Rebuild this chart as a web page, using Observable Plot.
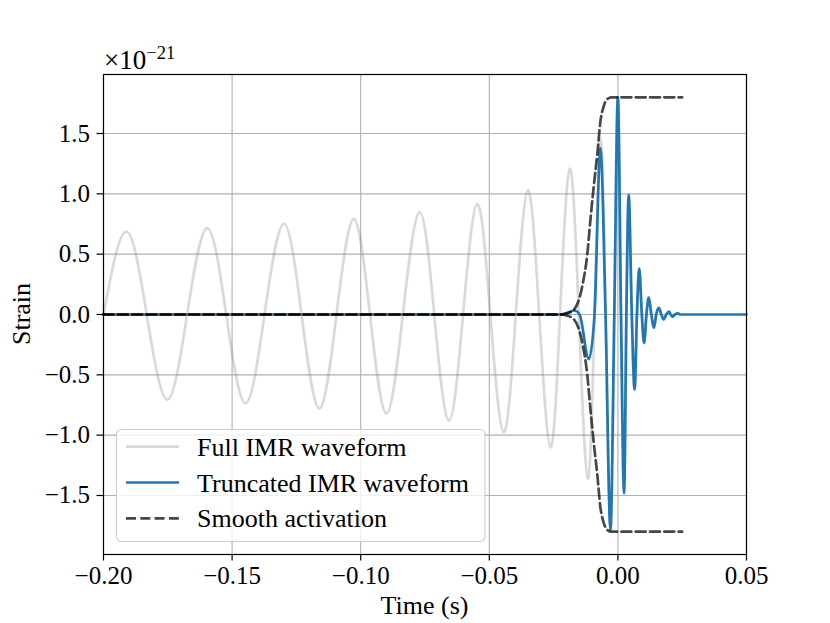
<!DOCTYPE html>
<html>
<head>
<meta charset="utf-8">
<script src="https://cdn.jsdelivr.net/npm/d3@7"></script>
<script src="https://cdn.jsdelivr.net/npm/@observablehq/plot@0.6"></script>
<style>
  html, body { margin: 0; padding: 0; background: white; }
  svg { display: block; }
</style>
</head>
<body>
<div id="chart"></div>
<script>
// Full IMR waveform (strain ×1e-21): extrema and zero crossings
const fullT = [-0.2000, -0.1912, -0.1832, -0.1752, -0.1675, -0.1597, -0.1523, -0.1448, -0.1374, -0.1299,
  -0.1230, -0.1161, -0.1094, -0.1027, -0.0964, -0.0900, -0.0836, -0.0771, -0.0714, -0.0657,
  -0.0602, -0.0547, -0.0496, -0.0444, -0.0397, -0.0350, -0.0306, -0.0262, -0.0225, -0.0187,
  -0.0152, -0.0117, -0.0091, -0.0068, -0.0048, -0.0029, -0.0014, 0.0000, 0.0012, 0.0024,
  0.0033, 0.0042, 0.0054, 0.0065, 0.0074, 0.0083, 0.0093, 0.0102, 0.0111, 0.0120,
  0.0130, 0.0140, 0.0149, 0.0159, 0.0169, 0.0178, 0.0188, 0.0198];
const fullV = [0, 0.688, 0, -0.705, 0, 0.716, 0, -0.735, 0, 0.752,
  0, -0.779, 0, 0.793, 0, -0.821, 0, 0.848, 0, -0.879,
  0, 0.918, 0, -0.976, 0, 1.028, 0, -1.100, 0, 1.208,
  0, -1.36, 0, 1.45, 0, -1.79, 0, 1.80, 0, -1.48,
  0, 0.99, 0, -0.62, 0, 0.38, 0, -0.235, 0, 0.14,
  0, -0.11, 0, 0.055, 0, -0.04, 0, 0.025];

// Truncated IMR waveform
const truncT = [-0.2000, -0.0223, -0.0200, -0.0169, -0.0149, -0.0113, -0.0091, -0.0068, -0.0048, -0.0029,
  -0.0014, 0.0000, 0.0012, 0.0024, 0.0033, 0.0042, 0.0054, 0.0065, 0.0074, 0.0083,
  0.0093, 0.0102, 0.0111, 0.0120, 0.0130, 0.0140, 0.0149, 0.0159, 0.0169, 0.0178,
  0.0188, 0.0198, 0.0205, 0.0212, 0.0222, 0.0233, 0.0243, 0.0500];
const truncV = [0, 0, 0.012, 0.033, 0, -0.37, 0, 1.38, 0, -1.78,
  0, 1.80, 0, -1.48, 0, 0.99, 0, -0.62, 0, 0.38,
  0, -0.235, 0, 0.14, 0, -0.11, 0, 0.055, 0, -0.04,
  0, 0.025, 0, -0.018, 0, 0.01, 0, 0];

// Smooth activation envelope (upper branch; lower branch is its mirror)
const actT = [-0.2000, -0.0223, -0.0200, -0.0171, -0.0139, -0.0119, -0.0107, -0.0094, -0.0080, -0.0068, -0.0056, -0.0044, -0.0025, 0.0250];
const actV = [0, 0, 0.008, 0.04, 0.23, 0.50, 0.78, 1.06, 1.33, 1.60, 1.72, 1.78, 1.80, 1.80];

const xTicks = [-0.20, -0.15, -0.10, -0.05, 0.00, 0.05];
const yTicks = [-1.5, -1.0, -0.5, 0.0, 0.5, 1.0, 1.5];
const legendLabels = ["Full IMR waveform", "Truncated IMR waveform", "Smooth activation"];

const full = fullT.map((t, i) => ({t, v: fullV[i]}));
const trunc = truncT.map((t, i) => ({t, v: truncV[i]}));
const actUp = actT.map((t, i) => ({t, v: actV[i]}));
const actDown = actT.map((t, i) => ({t, v: -actV[i]}));

const FONT = "'Liberation Serif', 'DejaVu Serif', serif";
const FS = 25;
const LW = 2.7;
const blue = "#1f77b4";
const dash = "10,4.3";

const svg = Plot.plot({
  width: 830,
  height: 623,
  marginLeft: 103,
  marginRight: 84,
  marginTop: 74,
  marginBottom: 69,
  style: {fontFamily: FONT, fontSize: FS + "px", background: "white", color: "black", overflow: "visible"},
  x: {domain: [-0.2, 0.05], ticks: xTicks, tickFormat: d3.format(".2f"), label: null},
  y: {domain: [-1.989, 1.989], ticks: yTicks, tickFormat: d3.format(".1f"), label: null},
  marks: [
    Plot.gridX(xTicks, {stroke: "#b0b0b0", strokeOpacity: 1, strokeWidth: 1.1}),
    Plot.gridY(yTicks, {stroke: "#b0b0b0", strokeOpacity: 1, strokeWidth: 1.1}),
    Plot.line(full, {x: "t", y: "v", stroke: "gray", strokeOpacity: 0.3, strokeWidth: LW, curve: "natural"}),
    Plot.line(trunc, {x: "t", y: "v", stroke: blue, strokeWidth: LW, curve: "monotone-x"}),
    Plot.line(actUp, {x: "t", y: "v", stroke: "black", strokeOpacity: 0.72, strokeWidth: LW, strokeDasharray: dash, curve: "monotone-x"}),
    Plot.line(actDown, {x: "t", y: "v", stroke: "black", strokeOpacity: 0.72, strokeWidth: LW, strokeDasharray: dash, curve: "monotone-x"}),
    Plot.frame({stroke: "black", strokeWidth: 1.2}),
    Plot.axisX({ticks: xTicks, tickSize: 6.5, tickPadding: 5, strokeWidth: 1.2, tickFormat: d3.format(".2f"), label: null}),
    Plot.axisY({ticks: yTicks, tickSize: 6.5, tickPadding: 7, strokeWidth: 1.2, tickFormat: d3.format(".1f"), label: null})
  ]
});

const s = d3.select(svg);
const g = s.append("g").attr("font-family", FONT).attr("font-size", FS).attr("fill", "black").attr("text-anchor", "start");

// axis labels
g.append("text").attr("x", 424.5).attr("y", 614).attr("text-anchor", "middle").attr("font-size", 26).text("Time (s)");
g.append("text").attr("transform", "translate(30,314) rotate(-90)").attr("text-anchor", "middle").attr("font-size", 26).text("Strain");

// offset multiplier
const mult = g.append("text").attr("x", 104).attr("y", 69).attr("text-anchor", "start").attr("font-size", 27);
mult.append("tspan").text("×10");
mult.append("tspan").attr("dy", -10).attr("font-size", 18.5).text("−21");

// legend
const lg = g.append("g").attr("text-anchor", "start");
lg.append("rect").attr("x", 116.5).attr("y", 429.5).attr("width", 368.5).attr("height", 112)
  .attr("rx", 5).attr("fill", "white").attr("fill-opacity", 0.8)
  .attr("stroke", "#cccccc").attr("stroke-width", 1.1);
const styles = [
  {stroke: "gray", op: 0.3, dash: null},
  {stroke: blue, op: 1, dash: null},
  {stroke: "black", op: 0.72, dash: dash}
];
legendLabels.forEach((lab, i) => {
  const yc = 446.7 + i * 35.8;
  const ln = lg.append("line").attr("x1", 126).attr("x2", 179).attr("y1", yc).attr("y2", yc)
    .attr("stroke", styles[i].stroke).attr("stroke-opacity", styles[i].op).attr("stroke-width", LW);
  if (styles[i].dash) ln.attr("stroke-dasharray", styles[i].dash);
  lg.append("text").attr("x", 197).attr("y", yc + 9).attr("text-anchor", "start").attr("font-size", 26).text(lab);
});

document.getElementById("chart").appendChild(svg);
</script>
</body>
</html>
